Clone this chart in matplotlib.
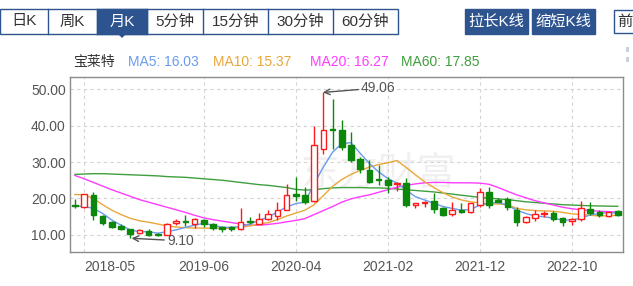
import matplotlib.pyplot as plt
from matplotlib.patches import Rectangle, Polygon

plt.rcParams['font.family'] = ['Liberation Sans', 'Noto Sans CJK SC']

# 月K数据 2018-04 ~ 2023-03
months = [f"{y}-{m:02d}" for y in range(2018, 2024) for m in range(1, 13)][3:63]

opens = [18.3, 17.8, 20.9, 15.2, 13.6, 12.5, 11.6, 10.5, 11.2,
         10.3, 10.1, 13.4, 13.8, 13.0, 14.1, 13.0, 12.1, 12.1, 11.6, 13.9, 13.1,
         14.5, 15.1, 16.8, 21.2, 20.9, 19.3, 33.6, 39.1, 38.7, 34.7, 30.8, 27.8,
         25.3, 25.2, 24.0, 24.2, 18.3, 18.7, 19.2, 17.3, 15.7, 16.8, 16.4, 18.2,
         21.9, 19.6, 19.8, 16.8, 13.6, 14.6, 15.7, 16.1, 14.6, 13.9, 14.3, 17.0,
         16.4, 15.3, 16.6]
highs = [19.8, 21.3, 21.8, 15.6, 13.9, 13.0, 11.7, 11.6, 11.7,
         10.6, 13.2, 14.3, 15.5, 14.6, 14.4, 13.3, 12.5, 12.6, 17.3, 14.9, 16.0,
         16.9, 19.0, 23.9, 25.9, 23.2, 39.8, 49.06, 47.3, 41.5, 38.3, 31.5, 30.5,
         29.2, 26.0, 24.6, 25.5, 18.7, 19.3, 21.4, 17.6, 19.1, 18.8, 18.9, 23.0,
         23.2, 20.0, 20.4, 17.8, 15.2, 16.8, 16.5, 16.6, 15.0, 14.6, 19.4, 19.1,
         16.9, 16.7, 16.9]
lows = [17.3, 17.5, 14.0, 12.8, 11.8, 11.4, 9.10, 10.3, 9.7,
        9.8, 9.9, 12.7, 12.5, 11.8, 12.3, 11.3, 10.8, 11.0, 11.4, 12.9, 13.1,
        14.0, 14.0, 16.8, 19.3, 18.6, 19.0, 32.3, 33.6, 33.3, 30.1, 26.9, 24.2,
        23.7, 21.4, 22.0, 17.6, 17.3, 17.7, 16.0, 15.3, 15.3, 16.0, 16.0, 17.8,
        17.3, 19.0, 16.8, 12.5, 13.3, 13.9, 14.8, 13.9, 12.5, 12.8, 13.9, 15.5,
        14.9, 15.0, 15.3]
closes = [18.0, 21.1, 15.6, 13.2, 12.1, 11.6, 10.2, 11.4, 9.9,
          10.0, 13.0, 13.7, 13.5, 14.3, 13.0, 11.8, 11.6, 11.6, 13.6, 13.5, 14.5,
          15.8, 16.9, 20.9, 20.7, 19.0, 34.6, 38.8, 38.7, 34.2, 30.5, 28.0, 24.6,
          25.0, 23.7, 24.3, 18.2, 18.7, 19.1, 17.2, 15.5, 16.8, 16.4, 18.7, 21.9,
          18.2, 19.1, 17.8, 13.6, 15.0, 15.7, 16.0, 14.3, 13.5, 14.3, 17.3, 16.1,
          15.5, 16.4, 15.6]

ma5 = [17.9, 17.8, 17.3, 15.9, 14.1, 12.7, 11.4, 10.9, 10.9,
       10.5, 10.9, 11.4, 12.1, 12.7, 13.2, 12.7, 12.1, 12.1, 12.3, 13.0, 14.0,
       14.9, 16.3, 17.7, 18.6, 19.0, 24.1, 28.6, 32.7, 35.0, 35.3, 32.4, 29.6,
       27.3, 25.5, 24.2, 22.3, 20.5, 19.6, 18.7, 17.8, 17.3, 16.8, 17.0, 18.2,
       18.7, 18.9, 18.2, 16.8, 15.9, 15.2, 15.0, 14.6, 14.1, 14.1, 14.6, 15.5,
       15.9, 16.1, 16.03]
ma10 = [21.1, 21.0, 20.0, 18.3, 16.8, 15.6, 14.6, 13.9, 13.5,
        13.0, 12.5, 12.2, 12.0, 11.9, 11.9, 11.8, 11.8, 11.9, 12.1, 12.5, 12.9,
        13.4, 14.2, 15.2, 16.0, 16.8, 18.3, 20.8, 23.3, 25.2, 26.6, 27.7, 28.6,
        29.3, 29.8, 30.4, 28.5, 26.5, 24.6, 23.0, 21.6, 20.4, 19.6, 19.1, 18.8,
        18.5, 18.5, 18.3, 17.3, 16.9, 16.7, 16.6, 16.5, 16.2, 15.8, 15.6, 15.4,
        15.2, 15.3, 15.37]
ma20 = [26.3, 25.4, 24.4, 23.4, 22.4, 21.5, 20.6, 19.7, 19.0,
        18.3, 17.6, 16.9, 16.2, 15.4, 14.7, 14.2, 13.8, 13.4, 13.0, 12.7, 12.7,
        12.9, 13.2, 13.6, 14.0, 14.5, 15.6, 16.7, 17.8, 19.0, 19.9, 20.5, 21.0,
        21.7, 22.4, 23.1, 23.6, 24.0, 24.3, 24.4, 24.4, 24.3, 24.3, 24.3, 24.2,
        23.9, 23.0, 22.0, 21.0, 20.2, 19.4, 18.8, 18.2, 17.6, 17.2, 16.9, 16.7,
        16.5, 16.4, 16.27]
ma60 = [26.6, 26.7, 26.8, 26.8, 26.7, 26.6, 26.5, 26.4, 26.3,
        26.2, 26.0, 25.9, 25.8, 25.6, 25.4, 25.2, 25.0, 24.7, 24.4, 24.1, 23.8,
        23.6, 23.3, 23.0, 22.5, 22.3, 22.4, 22.7, 22.9, 23.0, 23.0, 23.0, 22.9,
        22.9, 22.8, 22.6, 22.4, 22.2, 22.0, 21.8, 21.5, 21.2, 20.9, 20.6, 20.3,
        20.1, 19.9, 19.7, 19.4, 19.1, 18.9, 18.7, 18.5, 18.3, 18.2, 18.1, 18.0,
        17.95, 17.9, 17.85]

tick_months = ['2018-05', '2019-06', '2020-04', '2021-02', '2021-12', '2022-10']
y_ticks = [10, 20, 30, 40, 50]

tabs = ['日K', '周K', '月K', '5分钟', '15分钟', '30分钟', '60分钟']
buttons = ['拉长K线', '缩短K线']
legend_items = [('宝莱特', '#333333'), ('MA5: 16.03', '#6a9bf0'),
                ('MA10: 15.37', '#e8a838'), ('MA20: 16.27', '#ff3cff'),
                ('MA60: 17.85', '#3f9f3f')]

RED = '#ff1a1a'
GREEN = '#0c870c'
BLUE_UI = '#2e5490'

fig = plt.figure(figsize=(6.33, 2.86), dpi=100, facecolor='white')

# 顶部界面层 (像素坐标)
ui = fig.add_axes([0, 0, 1, 1], zorder=0)
ui.set_xlim(0, 633)
ui.set_ylim(286, 0)
ui.axis('off')

tab_edges = [0, 48, 97, 147, 203, 268, 333, 398]
ui.add_patch(Rectangle((0, 8.5), 398, 25, facecolor='white', edgecolor=BLUE_UI, lw=1))
for k, name in enumerate(tabs):
    x0, x1 = tab_edges[k], tab_edges[k + 1]
    sel = name == '月K'
    if sel:
        ui.add_patch(Rectangle((x0, 8.5), x1 - x0, 25, facecolor=BLUE_UI, edgecolor=BLUE_UI, lw=1))
        ui.add_patch(Polygon([((x0 + x1) / 2 - 5, 33), ((x0 + x1) / 2 + 5, 33),
                              ((x0 + x1) / 2, 38)], closed=True, facecolor=BLUE_UI, edgecolor='none'))
    if k > 0:
        ui.plot([x0, x0], [8.5, 33.5], color=BLUE_UI, lw=1)
    ui.text((x0 + x1) / 2, 21.5, name, ha='center', va='center', fontsize=11,
            color='white' if sel else '#333333')

for k, name in enumerate(buttons):
    x0 = 465 + k * 67
    ui.add_patch(Rectangle((x0, 9), 63, 25, facecolor=BLUE_UI, edgecolor=BLUE_UI, lw=1))
    ui.text(x0 + 31.5, 21.5, name, ha='center', va='center', fontsize=11, color='white')
ui.add_patch(Rectangle((614, 10), 30, 23, facecolor='white', edgecolor=BLUE_UI, lw=1))
ui.text(617, 21.5, '前', ha='left', va='center', fontsize=11, color='#333333')
ui.add_patch(Rectangle((626, 47), 3, 5, facecolor='#c8d0dc', edgecolor='none'))
ui.add_patch(Rectangle((626, 57), 3, 5, facecolor='#c8d0dc', edgecolor='none'))

legend_x = [73, 128, 213, 310, 401]
for (label, col), lx in zip(legend_items, legend_x):
    ui.text(lx, 62, label, ha='left', va='center', fontsize=10, color=col)

# 水印
ui.text(300, 174, '东方财富', ha='left', va='center', fontsize=28, color='#f0f0f0')

# K线主图
ax = fig.add_axes([70 / 633, 34 / 286, 553 / 633, 175 / 286], zorder=1)
ax.set_facecolor('none')
x = list(range(len(months)))

ax.plot(x, ma60, color='#3f9f3f', lw=1, zorder=2)
ax.plot(x, ma20, color='#ff3cff', lw=1, zorder=2)
ax.plot(x, ma10, color='#e8a838', lw=1, zorder=2)
ax.plot(x, ma5, color='#6a9bf0', lw=1, zorder=2)

w = 0.6
for i in x:
    o, h, l, c = opens[i], highs[i], lows[i], closes[i]
    up = c >= o
    col = RED if up else GREEN
    ax.vlines(i, l, h, color=col, lw=1, zorder=3)
    bottom = min(o, c)
    height = max(abs(c - o), 0.15)
    ax.add_patch(Rectangle((i - w / 2, bottom), w, height,
                           facecolor='white' if up else col, edgecolor=col, lw=1, zorder=4))

hi_idx = highs.index(max(highs))
lo_idx = lows.index(min(lows))
ax.annotate(f"{max(highs):.2f}", xy=(hi_idx - 0.05, max(highs)), xytext=(hi_idx + 4.1, 50.3),
            ha='left', va='center', fontsize=10, color='#555555', zorder=5,
            arrowprops=dict(arrowstyle='->', color='#555555', lw=1, shrinkA=0, shrinkB=0))
ax.annotate(f"{min(lows):.2f}", xy=(lo_idx + 0.15, min(lows)), xytext=(lo_idx + 4.0, 8.4),
            ha='left', va='center', fontsize=10, color='#555555', zorder=5,
            arrowprops=dict(arrowstyle='->', color='#555555', lw=1, shrinkA=0, shrinkB=0))

ax.set_xlim(-0.54, 59.57)
ax.set_ylim(5.34, 53.29)
ax.set_xticks([months.index(m) for m in tick_months])
ax.set_xticklabels(tick_months)
ax.get_xticklabels()[0].set_horizontalalignment('left')
ax.set_yticks(y_ticks)
ax.set_yticklabels([f"{v:.2f}" for v in y_ticks])
ax.tick_params(axis='both', length=0, labelsize=10, labelcolor='#555555')
ax.tick_params(axis='x', pad=6)
ax.tick_params(axis='y', pad=3)
ax.grid(True, color='#d4d4d4', linestyle=(0, (3, 3)), lw=0.8)
ax.set_axisbelow(True)
for sp in ax.spines.values():
    sp.set_color('#8c8c8c')
    sp.set_linewidth(1)

fig.savefig('out.png', dpi=100, facecolor='white')
